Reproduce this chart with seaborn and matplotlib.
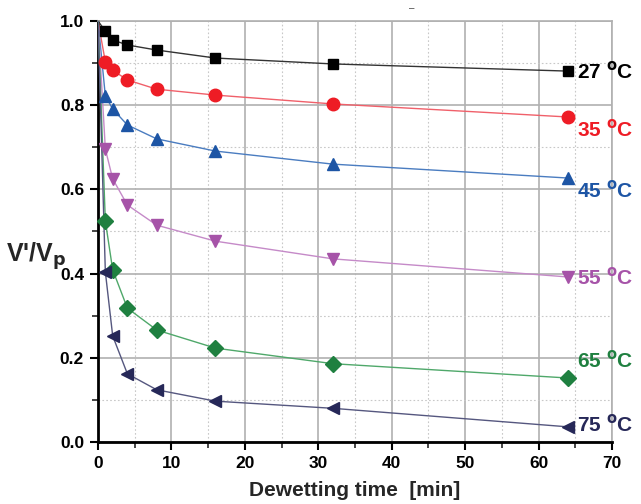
import matplotlib
matplotlib.use("Agg")
import matplotlib.pyplot as plt
import seaborn as sns
import pandas as pd
from matplotlib.ticker import MultipleLocator

sns.set_style("white")
plt.rcParams['font.family'] = ['Liberation Sans', 'DejaVu Sans']

time_min = [0, 1, 2, 4, 8, 16, 32, 64]
v27 = [1.0, 0.976, 0.955, 0.943, 0.931, 0.912, 0.898, 0.881]
v35 = [1.0, 0.903, 0.883, 0.860, 0.838, 0.824, 0.803, 0.772]
v45 = [1.0, 0.822, 0.791, 0.753, 0.720, 0.691, 0.660, 0.627]
v55 = [1.0, 0.696, 0.625, 0.563, 0.515, 0.477, 0.435, 0.392]
v65 = [1.0, 0.525, 0.409, 0.318, 0.266, 0.223, 0.186, 0.152]
v75 = [1.0, 0.404, 0.252, 0.162, 0.124, 0.097, 0.080, 0.036]

labels = ["27 \u00b0C", "35 \u00b0C", "45 \u00b0C", "55 \u00b0C", "65 \u00b0C", "75 \u00b0C"]
series = [v27, v35, v45, v55, v65, v75]
colors = ["#000000", "#ee1c25", "#1d55a5", "#a653a8", "#1f8040", "#262858"]
line_colors = ["#333333", "#f0606a", "#4a7cc0", "#c58ac8", "#4fa86a", "#55577f"]
markers = ["s", "o", "^", "v", "D", "<"]
msizes = [7, 9, 9, 9, 8, 9]

rows = []
for lab, vals in zip(labels, series):
    for t, v in zip(time_min, vals):
        rows.append({"t": t, "v": v, "series": lab})
df = pd.DataFrame(rows)

fig = plt.figure(figsize=(6.41, 5.04), dpi=100)
ax = fig.add_axes([98/641, 62/504, (612-98)/641, (442-21)/504])

for lab, lc, c, m, ms in zip(labels, line_colors, colors, markers, msizes):
    sub = df[df["series"] == lab]
    sns.lineplot(data=sub, x="t", y="v", ax=ax, color=lc, linewidth=1.0,
                 marker=None, legend=False, zorder=3)
    ax.plot(sub["t"].values[1:], sub["v"].values[1:], linestyle="none",
            marker=m, color=c, markersize=ms, markeredgecolor=c, zorder=4, clip_on=False)

ax.set_xlim(0, 70)
ax.set_ylim(0, 1.0)
ax.xaxis.set_major_locator(MultipleLocator(10))
ax.xaxis.set_minor_locator(MultipleLocator(5))
ax.yaxis.set_major_locator(MultipleLocator(0.2))
ax.yaxis.set_minor_locator(MultipleLocator(0.1))
ax.yaxis.set_major_formatter(matplotlib.ticker.FormatStrFormatter("%.1f"))

ax.grid(which="major", color="#b0b0b0", linewidth=1.2, linestyle="-")
ax.grid(which="minor", color="#c8c8c8", linewidth=0.8, linestyle=(0, (1.5, 2)))
ax.set_axisbelow(True)

for s in ["left", "bottom"]:
    ax.spines[s].set_color("black")
    ax.spines[s].set_linewidth(2)
for s in ["top", "right"]:
    ax.spines[s].set_color("#b0b0b0")
    ax.spines[s].set_linewidth(1.2)

ax.tick_params(axis="both", which="major", direction="out", length=6, width=1.5,
               colors="black", labelsize=12.5, left=True, bottom=True, pad=4)
ax.tick_params(axis="both", which="minor", direction="out", length=4, width=1.2,
               left=True, bottom=True)
for lbl in ax.get_xticklabels() + ax.get_yticklabels():
    lbl.set_fontweight("bold")

ax.set_xlabel("Dewetting time  [min]", fontsize=15, fontweight="bold", labelpad=7)
ax.set_ylabel("")
fig.text(36/641, 1 - 256/504, r"V'/V$_\mathbf{p}$", fontsize=18, fontweight="bold",
         ha="center", va="center")

label_dy = [0.0, -0.03, -0.03, 0.0, 0.042, 0.006]
for lab, c, vals, dy in zip(labels, colors, series, label_dy):
    ax.text(65.3, vals[-1] + dy, lab.replace("\u00b0", "$^\\mathbf{o}$"), color=c,
            fontsize=15, fontweight="bold", ha="left", va="center", clip_on=False)

fig.text(412/641, 1 - 8/504, "\u2013", fontsize=7, color="#444444", ha="center", va="center")

fig.savefig("out.png", dpi=100)
